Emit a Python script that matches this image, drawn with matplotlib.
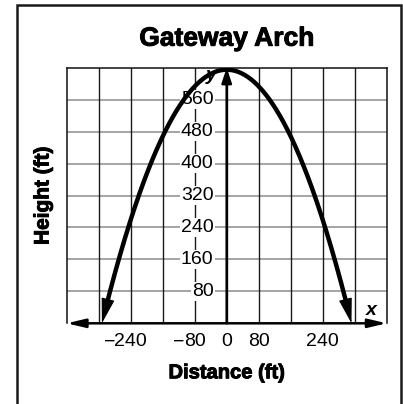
import matplotlib
matplotlib.use("Agg")
import matplotlib.pyplot as plt
import matplotlib.patheffects as pe
import numpy as np
from matplotlib.patches import FancyArrowPatch, Rectangle

# arch profile (ft): top of the arch and where it meets the ground
peak_height = 635
foot_left = -312
foot_right = 312

x_ticks = [-240, -80, 0, 80, 240]
y_ticks = [80, 160, 240, 320, 400, 480, 560]
grid_x = [-400, -320, -240, -160, -80, 0, 80, 160, 240, 320, 400]
grid_y = [0, 80, 160, 240, 320, 400, 480, 560, 640]

plt.rcParams["font.family"] = ["Liberation Sans", "DejaVu Sans"]
heavy = [pe.withStroke(linewidth=0.7, foreground="black")]


def arch(x):
    return peak_height * (1 - (x / foot_right) ** 2)


def arch_x(h):
    return foot_right * np.sqrt(1 - h / peak_height)


W, H = 403, 404
fig = plt.figure(figsize=(W / 100, H / 100), dpi=100)
ax = fig.add_axes([66.7 / W, 1 - 323.3 / H, 320 / W, 255.6 / H])
ax.set_xlim(grid_x[0], grid_x[-1])
ax.set_ylim(grid_y[0], grid_y[-1])
ax.set_xticks([])
ax.set_yticks([])
for s in ["left", "right", "top"]:
    ax.spines[s].set_linewidth(1.1)
    ax.spines[s].set_color("#111111")
ax.spines["bottom"].set_visible(False)

# grid: grey rows, dark columns
for gy in grid_y[1:-1]:
    ax.axhline(gy, color="#8c8c8c", lw=1.1, zorder=1)
for gx in grid_x[1:-1]:
    ax.axvline(gx, color="#1a1a1a", lw=1.0, zorder=1)

# axes arrows
ax.add_patch(FancyArrowPatch((grid_x[0], 0), (grid_x[-1], 0),
                             arrowstyle="<|-|>,head_length=11,head_width=2.6",
                             mutation_scale=1, lw=1.8, color="black",
                             shrinkA=0, shrinkB=0, clip_on=False, zorder=4))
ax.add_patch(FancyArrowPatch((0, 0), (0, grid_y[-1]),
                             arrowstyle="-|>,head_length=9,head_width=3",
                             mutation_scale=1, lw=1.8, color="black",
                             shrinkA=0, shrinkB=0, clip_on=False, zorder=4))

# the arch, with arrowheads where it hits the ground
cut = arch_x(30)
xs = np.linspace(-cut, cut, 400)
ax.plot(xs, arch(xs), color="black", lw=3.2, solid_capstyle="butt", zorder=5)
for side in (-1, 1):
    start = (side * arch_x(70), 70)
    end = (foot_left if side < 0 else foot_right, 0)
    ax.add_patch(FancyArrowPatch(start, end,
                                 arrowstyle="-|>,head_length=16,head_width=4.2",
                                 mutation_scale=1, lw=0.8, color="black",
                                 shrinkA=0, shrinkB=0, clip_on=False, zorder=6))

# y tick labels sit on the grid with a white backing
for v in y_ticks:
    ax.text(-33, v, str(v), ha="right", va="center", fontsize=14,
            bbox=dict(boxstyle="square,pad=0.06", fc="white", ec="none"),
            zorder=3)

# x tick labels: digits centred on the tick, minus sign hanging left
neg = []
for v in x_ticks:
    t = ax.text(v, -46, str(abs(v)), ha="center", va="center", fontsize=14,
                clip_on=False)
    if v < 0:
        neg.append(t)
fig.canvas.draw()
r = fig.canvas.get_renderer()
for t in neg:
    w = t.get_window_extent(r).width
    ax.annotate("\u2212", xy=t.get_position(), xycoords="data",
                xytext=(-w / 2 + 1, 0), textcoords="offset pixels",
                ha="right", va="center", fontsize=14, annotation_clip=False)

ax.text(-38, 620, "y", ha="center", va="center", fontsize=14,
        fontweight="bold", fontstyle="italic")
ax.text(362, 33, "x", ha="center", va="center", fontsize=14,
        fontweight="bold", fontstyle="italic")

fig.text(226.7 / W, 1 - 45.7 / H, "Gateway Arch", ha="center", va="baseline",
         fontsize=19, fontweight="bold", path_effects=heavy)
fig.text(226.7 / W, 1 - 378.3 / H, "Distance (ft)", ha="center",
         va="baseline", fontsize=14.5, fontweight="bold", path_effects=heavy)
fig.text(43 / W, 1 - 195.5 / H, "Height (ft)", ha="center", va="center",
         rotation=90, fontsize=15, fontweight="bold", path_effects=heavy)

# outer frame
fig.add_artist(Rectangle((17.3 / W, -0.05), (400.5 - 17.3) / W, 1.05 - 5 / H,
                         transform=fig.transFigure, fill=False, lw=1.8,
                         ec="#1a1a1a"))

fig.savefig("out.png", dpi=100)
